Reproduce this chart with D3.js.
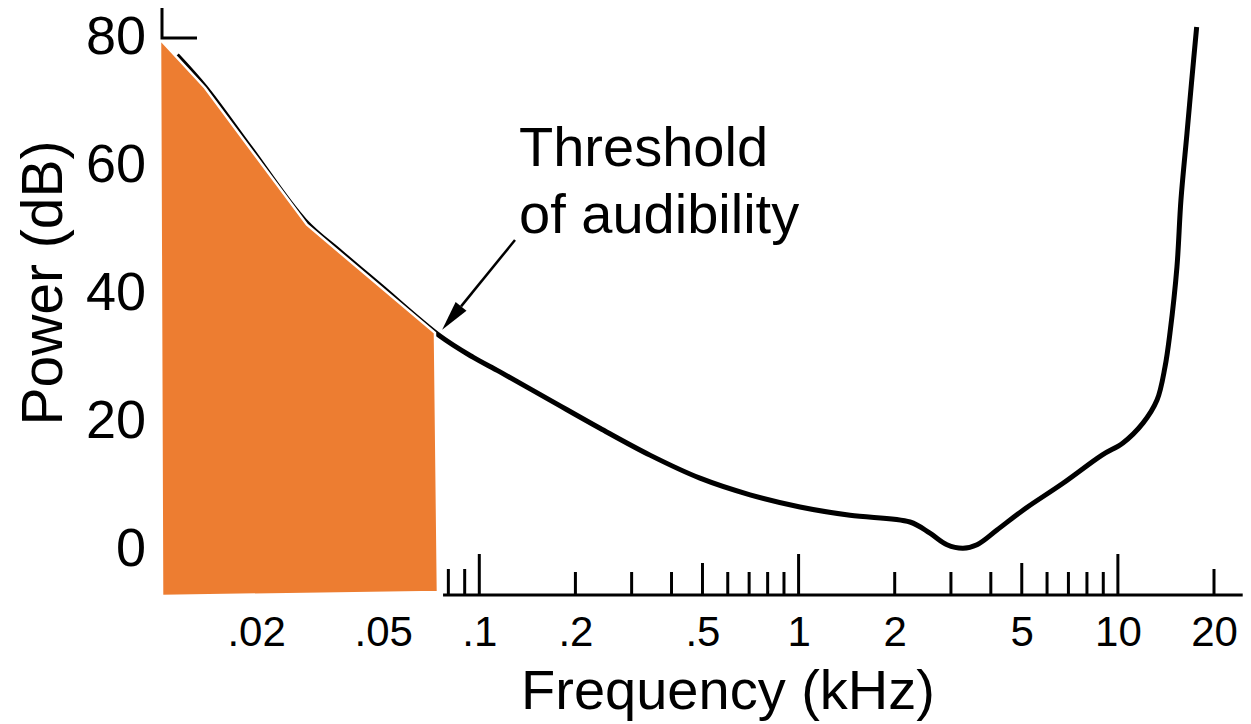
<!DOCTYPE html>
<html>
<head>
<meta charset="utf-8">
<script src="https://cdn.jsdelivr.net/npm/d3@7"></script>
<style>
  html, body { margin: 0; padding: 0; background: #fff; }
  svg { display: block; }
  text { font-family: "Liberation Sans", Arial, Helvetica, sans-serif; fill: #000; }
</style>
</head>
<body>
<svg id="chart" width="1251" height="724"></svg>
<script>
// ---- data ----
const freqKHz = [0.0113, 0.01383, 0.01913, 0.02844, 0.03663, 0.04887, 0.07529, 0.0955, 0.1161, 0.1665, 0.2388, 0.3424, 0.4912, 0.7046, 1.01, 1.449, 2.233, 2.579, 2.916, 3.273, 3.620, 4.181, 5.045, 6.730, 8.916, 10.37, 11.98, 13.26, 14.05, 14.56, 15.31, 15.76, 16.46, 17.0, 17.65];
const powerDb = [76.7, 71.75, 62.3, 50.8, 46.0, 40.7, 32.8, 29.5, 27.2, 22.8, 18.4, 14.2, 10.6, 8.0, 6.1, 4.8, 3.75, 2.0, 0.2, -0.35, 0.2, 2.5, 5.6, 9.8, 14.2, 16.1, 19.2, 22.8, 28.0, 33.3, 43.6, 54.1, 64.5, 72.3, 81.1];

const shadeFreq = [0.01, 0.01383, 0.02886, 0.07264, 0.07422, 0.01015];
const shadeDb = [79.2, 71.6, 50.2, 33.3, -7.2, -7.8];

const xTickValues = [0.08, 0.09, 0.1, 0.2, 0.3, 0.4, 0.5, 0.6, 0.7, 0.8, 0.9, 1, 2, 3, 4, 5, 6, 7, 8, 9, 10, 20];
const xLabelValues = [0.02, 0.05, 0.1, 0.2, 0.5, 1, 2, 5, 10, 20];
const xLabelText = [".02", ".05", ".1", ".2", ".5", "1", "2", "5", "10", "20"];
const yTickValues = [0, 20, 40, 60, 80];

const xTitle = "Frequency (kHz)";
const yTitle = "Power (dB)";
const noteLines = ["Threshold", "of audibility"];

// ---- scales ----
const svg = d3.select("#chart");
svg.append("rect").attr("width", 1251).attr("height", 724).attr("fill", "#fff");

const x = d3.scaleLog().domain([0.01, 20]).range([160, 1214]);
const y = d3.scaleLinear().domain([0, 80]).range([546, 34]);
const axisY = 595;

// ---- threshold curve ----
const curvePts = freqKHz.map((f, i) => [x(f), y(powerDb[i])]);
svg.append("path")
  .attr("d", d3.line().curve(d3.curveCatmullRom.alpha(0.5))(curvePts))
  .attr("fill", "none")
  .attr("stroke", "#000")
  .attr("stroke-width", 5)
  .attr("stroke-linejoin", "round")
  .attr("stroke-linecap", "butt");

// ---- orange shaded region ----
const shadePts = shadeFreq.map((f, i) => [x(f), y(shadeDb[i])]);
svg.append("path")
  .attr("d", d3.line()(shadePts) + "Z")
  .attr("fill", "#ED7D31")
  .attr("stroke", "#fff")
  .attr("stroke-width", 2.5)
  .attr("stroke-linejoin", "miter");

// ---- y-axis corner stub ----
const cx = x(0.01) + 2, cy = y(80) + 4;
svg.append("path")
  .attr("d", `M${cx},${cy - 30}V${cy}H${cx + 35}`)
  .attr("fill", "none").attr("stroke", "#000").attr("stroke-width", 3);

// ---- x axis ----
svg.append("line")
  .attr("x1", x(0.077)).attr("x2", x(24.6))
  .attr("y1", axisY).attr("y2", axisY)
  .attr("stroke", "#000").attr("stroke-width", 3);

function tickLen(v) {
  const lg = Math.log10(v);
  if (Math.abs(lg - Math.round(lg)) < 1e-6) return 41;
  const m = Math.round(v / Math.pow(10, Math.floor(lg)));
  if (m === 5) return 32;
  if (v === 20 || v === 0.08 || v === 0.09) return 26;
  return 23;
}
svg.append("g").selectAll("line").data(xTickValues).join("line")
  .attr("x1", d => x(d)).attr("x2", d => x(d))
  .attr("y1", axisY).attr("y2", d => axisY - tickLen(d))
  .attr("stroke", "#000").attr("stroke-width", 3);

const xLabelAxis = d3.axisBottom(x)
  .tickValues(xLabelValues)
  .tickFormat((d, i) => xLabelText[i])
  .tickSize(0)
  .tickPadding(21);
const gx = svg.append("g").attr("transform", `translate(0,${axisY})`).call(xLabelAxis);
gx.select(".domain").remove();
gx.selectAll("text").attr("font-size", 42).attr("font-family", null).attr("fill", "#000");

// ---- y axis labels ----
const yAxis = d3.axisLeft(y).tickValues(yTickValues).tickSize(0).tickPadding(14);
const gy = svg.append("g").attr("transform", `translate(160,0)`).call(yAxis);
gy.select(".domain").remove();
gy.selectAll("text").attr("font-size", 54).attr("font-family", null).attr("fill", "#000").attr("dy", "0.36em");

// ---- titles ----
svg.append("text")
  .attr("x", 728).attr("y", 709)
  .attr("text-anchor", "middle")
  .attr("font-size", 56)
  .text(xTitle);

svg.append("text")
  .attr("transform", "translate(62,283) rotate(-90)")
  .attr("text-anchor", "middle")
  .attr("font-size", 57)
  .text(yTitle);

// ---- annotation ----
const note = svg.append("text").attr("font-size", 56);
noteLines.forEach((t, i) => {
  note.append("tspan").attr("x", 519).attr("y", 166 + i * 67).text(t);
});

const tip = [x(0.0765), y(33.8)];
const start = [515, 240];
const ang = Math.atan2(tip[1] - start[1], tip[0] - start[0]);
const headLen = 30, headW = 7;
const base = [tip[0] - headLen * Math.cos(ang), tip[1] - headLen * Math.sin(ang)];
svg.append("line")
  .attr("x1", start[0]).attr("y1", start[1])
  .attr("x2", base[0]).attr("y2", base[1])
  .attr("stroke", "#000").attr("stroke-width", 2.5);
svg.append("path")
  .attr("d", `M${tip[0]},${tip[1]}L${base[0] - headW * Math.sin(ang)},${base[1] + headW * Math.cos(ang)}L${base[0] + headW * Math.sin(ang)},${base[1] - headW * Math.cos(ang)}Z`)
  .attr("fill", "#000");
</script>
</body>
</html>
